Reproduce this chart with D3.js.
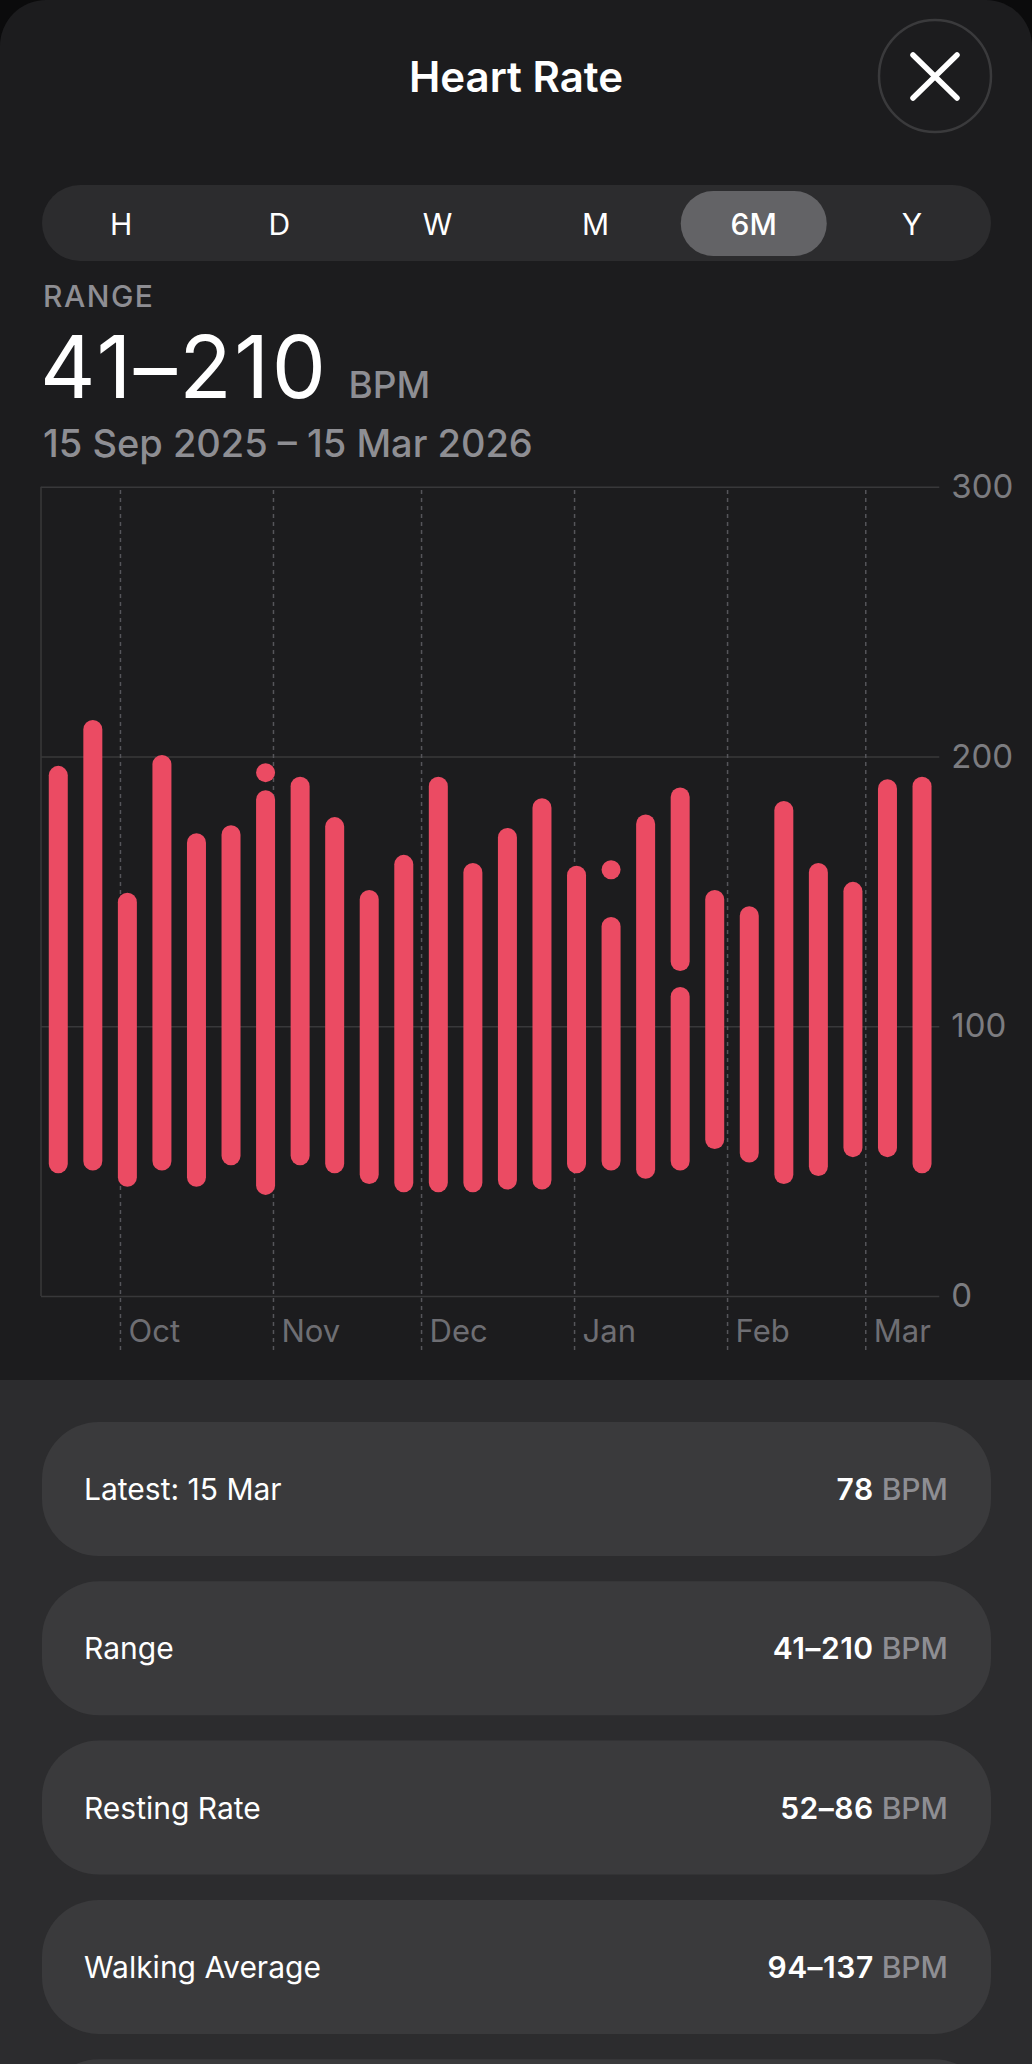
<!DOCTYPE html>
<html>
<head>
<meta charset="utf-8">
<script src="https://cdn.jsdelivr.net/npm/d3@7"></script>
<style>
  html, body { margin: 0; padding: 0; background: #0b0b0c; }
  svg { display: block; font-family: "Inter", "Roboto", "DejaVu Sans", sans-serif; }
</style>
</head>
<body>
<svg id="screen" width="1032" height="2064"></svg>
<script>
// week buckets (Monday start) shown in the 6M view
const weekStarts = [
  "2025-09-15", "2025-09-22", "2025-09-29", "2025-10-06", "2025-10-13", "2025-10-20",
  "2025-10-27", "2025-11-03", "2025-11-10", "2025-11-17", "2025-11-24", "2025-12-01",
  "2025-12-08", "2025-12-15", "2025-12-22", "2025-12-29", "2026-01-05", "2026-01-12",
  "2026-01-19", "2026-01-26", "2026-02-02", "2026-02-09", "2026-02-16", "2026-02-23",
  "2026-03-02", "2026-03-09"
];
// min/max BPM per week, some weeks split into separate pieces
const weekSegments = [
  [[49, 193]], [[50, 210]], [[44, 146]], [[50, 197]], [[44, 168]], [[52, 171]],
  [[41, 184], [194, 194]], [[52, 189]], [[49, 174]], [[45, 147]], [[42, 160]], [[42, 189]],
  [[42, 157]], [[43, 170]], [[43, 181]], [[49, 156]], [[50, 137], [158, 158]], [[47, 175]],
  [[50, 111], [124, 185]], [[58, 147]], [[53, 141]], [[45, 180]], [[48, 157]], [[55, 150]],
  [[55, 188]], [[49, 189]]
];
const yTicks = [0, 100, 200, 300];
const periods = ["H", "D", "W", "M", "6M", "Y"];
const selectedPeriod = "6M";
const statLabels = ["Latest: 15 Mar", "Range", "Resting Rate", "Walking Average", ""];
const statValues = ["78", "41–210", "52–86", "94–137", ""];

const W = 1032, H = 2064;
const svg = d3.select("#screen");
const grey = "#8e8e93";

// sheet background with rounded top corners
svg.append("rect").attr("width", W).attr("height", H).attr("fill", "#0b0b0c");
svg.append("rect").attr("x", 0).attr("y", 0).attr("width", W).attr("height", H + 60)
    .attr("rx", 46).attr("fill", "#1c1c1e");
svg.append("rect").attr("x", 0).attr("y", 1380).attr("width", W).attr("height", H - 1380)
    .attr("fill", "#2c2c2e");

// title
svg.append("text").attr("x", 516).attr("y", 92).attr("text-anchor", "middle")
    .attr("font-size", 42).attr("font-weight", 600).attr("fill", "#fff")
    .text("Heart Rate");

// close button
var close = svg.append("g").attr("transform", "translate(935,76)");
close.append("circle").attr("r", 56).attr("fill", "#1c1c1e")
    .attr("stroke", "#3a3a3c").attr("stroke-width", 2.5);
close.selectAll("line").data([[-22, -21, 22, 22], [22, -21, -22, 22]]).join("line")
    .attr("x1", d => d[0]).attr("y1", d => d[1]).attr("x2", d => d[2]).attr("y2", d => d[3])
    .attr("stroke", "#fff").attr("stroke-width", 5.5).attr("stroke-linecap", "round");

// period switch
var segX = d3.scaleBand().domain(periods).range([42, 991]);
svg.append("rect").attr("x", 42).attr("y", 185).attr("width", 949).attr("height", 76)
    .attr("rx", 38).attr("fill", "#2c2c2e");
svg.append("rect")
    .attr("x", segX(selectedPeriod) + segX.bandwidth() / 2 - 73).attr("y", 191)
    .attr("width", 146).attr("height", 65).attr("rx", 32.5).attr("fill", "#636366");
svg.selectAll(".period").data(periods).join("text")
    .attr("class", "period")
    .attr("x", d => segX(d) + segX.bandwidth() / 2).attr("y", 235)
    .attr("text-anchor", "middle").attr("font-size", 30)
    .attr("font-weight", d => d === selectedPeriod ? 500 : 400)
    .attr("fill", "#fff").text(d => d);

// summary header
svg.append("text").attr("x", 43).attr("y", 307).attr("font-size", 30)
    .attr("font-weight", 500).attr("letter-spacing", 1.5).attr("fill", grey).text("RANGE");
var big = svg.append("text").attr("x", 40).attr("y", 398);
big.append("tspan").attr("font-size", 86).attr("font-weight", 400).attr("fill", "#fff")
    .attr("letter-spacing", 2.5).text("41–210");
big.append("tspan").attr("dx", 20).attr("font-size", 37).attr("font-weight", 500)
    .attr("letter-spacing", 0).attr("fill", grey).text("BPM");
svg.append("text").attr("x", 43).attr("y", 457).attr("font-size", 38)
    .attr("font-weight", 500).attr("fill", grey).text("15 Sep 2025 – 15 Mar 2026");

// scales
var parse = d3.timeParse("%Y-%m-%d");
var x = d3.scaleTime()
    .domain([new Date(2025, 8, 15), new Date(2026, 2, 16)])
    .range([41, 939.3]);
var y = d3.scaleLinear().domain([0, 300]).range([1296, 486.7]);

// y grid + labels on the right
var yAxis = svg.append("g").attr("transform", "translate(939.3,0)")
    .call(d3.axisRight(y).tickValues(yTicks).tickSize(-(939.3 - 41)).tickPadding(12));
yAxis.select(".domain").remove();
yAxis.selectAll(".tick line").attr("stroke", "#38383a").attr("stroke-width", 1.5);
yAxis.selectAll(".tick text").attr("fill", "#7c7c80").attr("font-size", 33)
    .attr("font-family", "Inter, Roboto, sans-serif");

svg.append("line").attr("x1", 41).attr("x2", 41).attr("y1", y(300)).attr("y2", y(0))
    .attr("stroke", "#38383a").attr("stroke-width", 1.5);

// month dividers (dashed) + labels
var xAxis = svg.append("g").attr("transform", "translate(0,1350)")
    .call(d3.axisBottom(x).ticks(d3.timeMonth.every(1)).tickFormat(d3.timeFormat("%b"))
        .tickSize(-(1350 - y(300))));
xAxis.select(".domain").remove();
xAxis.selectAll(".tick line").attr("stroke", "#55555a").attr("stroke-width", 1.5)
    .attr("stroke-dasharray", "4,4");
xAxis.selectAll(".tick text").attr("fill", "#6e6e73").attr("font-size", 31)
    .attr("font-family", "Inter, Roboto, sans-serif")
    .attr("text-anchor", "start").attr("x", 8).attr("y", -8).attr("dy", null);

// range capsules
var barW = 19;
var pieces = [];
weekStarts.forEach(function (w, i) {
    var mid = d3.timeHour.offset(parse(w), 84);
    weekSegments[i].forEach(function (s) { pieces.push({ t: mid, lo: s[0], hi: s[1] }); });
});
svg.append("g").selectAll("rect").data(pieces).join("rect")
    .attr("x", d => x(d.t) - barW / 2)
    .attr("y", d => y(d.hi) - barW / 2)
    .attr("width", barW)
    .attr("height", d => y(d.lo) - y(d.hi) + barW)
    .attr("rx", barW / 2)
    .attr("fill", "#eb4b63");

// stat cards
var cards = svg.append("g").selectAll("g").data(statLabels).join("g")
    .attr("transform", (d, i) => "translate(42," + (1422 + i * 159.3) + ")");
cards.append("rect").attr("width", 949).attr("height", 134).attr("rx", 57)
    .attr("fill", "#3a3a3c");
cards.append("text").attr("x", 42).attr("y", 78).attr("font-size", 30)
    .attr("fill", "#fff").text(d => d);
var vals = cards.filter((d, i) => statValues[i] !== "").append("text")
    .attr("x", 906).attr("y", 78).attr("text-anchor", "end").attr("font-size", 30);
vals.append("tspan").attr("font-weight", 600).attr("letter-spacing", 0.5).attr("fill", "#fff")
    .text((d, i) => statValues[statLabels.indexOf(d)]);
vals.append("tspan").attr("font-weight", 500).attr("fill", grey).text(" BPM");
</script>
</body>
</html>
